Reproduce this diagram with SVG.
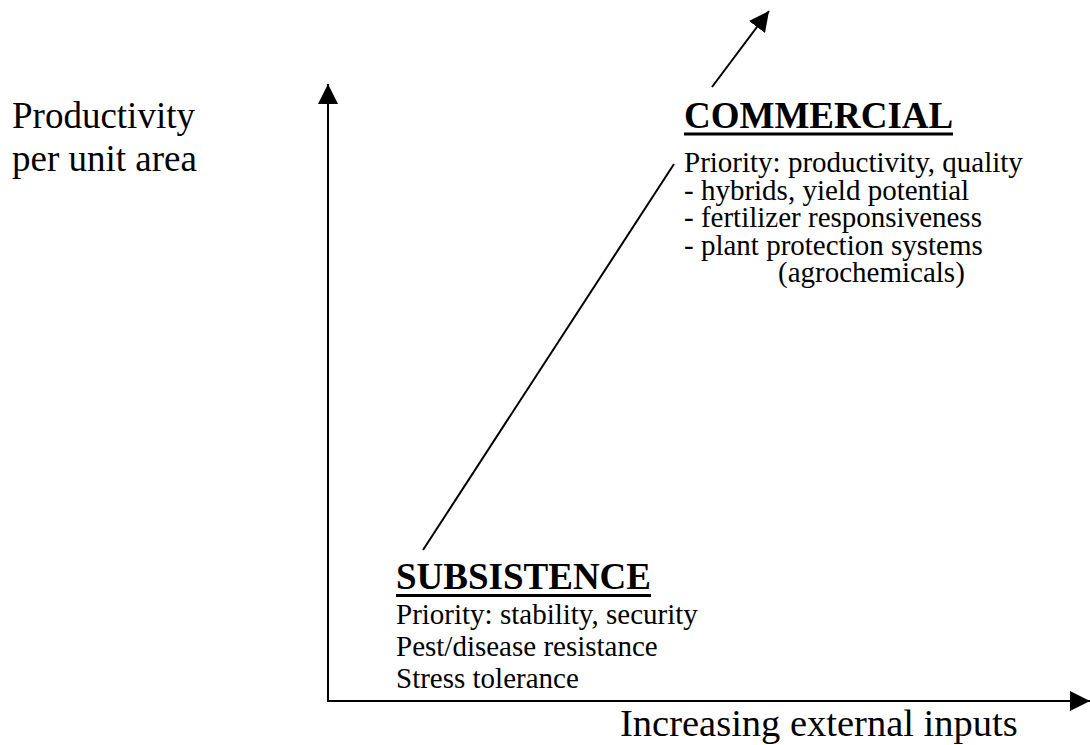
<svg xmlns="http://www.w3.org/2000/svg" width="1090" height="745" viewBox="0 0 1090 745">
<style>
text{font-family:"Liberation Serif","Times New Roman",serif;fill:#000}
.lab{font-size:37px}
.head{font-size:37px;font-weight:bold}
.body{font-size:29px}
.ln{stroke:#000;stroke-width:2;fill:none}
.ul{stroke:#000;stroke-width:3}
</style>
<defs>
<marker id="ah" viewBox="0 0 20 20" refX="20" refY="10" markerWidth="20" markerHeight="20" markerUnits="userSpaceOnUse" orient="auto">
<path d="M0,0 L20,10 L0,20 Z" fill="#000"/>
</marker>
</defs>
<rect width="1090" height="745" fill="#fff"/>
<g id="connectors">
<line class="ln" x1="328" y1="702" x2="328" y2="84" marker-end="url(#ah)"/>
<line class="ln" x1="327" y1="701" x2="1090" y2="701" marker-end="url(#ah)"/>
<line class="ln" x1="423" y1="550" x2="674" y2="164"/>
<line class="ln" x1="712" y1="87" x2="769" y2="11" marker-end="url(#ah)"/>
</g>
<g id="y-label">
<text class="lab" x="12" y="128">Productivity</text>
<text class="lab" x="12" y="171">per unit area</text>
</g>
<g id="x-label">
<text class="lab" x="620" y="736" style="font-size:38.5px">Increasing external inputs</text>
</g>
<g id="commercial">
<text class="head" x="684" y="128">COMMERCIAL</text>
<line class="ul" x1="684" y1="134" x2="953" y2="134"/>
<text class="body" x="684" y="172">Priority: productivity, quality</text>
<text class="body" x="684" y="199.5">- hybrids, yield potential</text>
<text class="body" x="684" y="227">- fertilizer responsiveness</text>
<text class="body" x="684" y="254.5">- plant protection systems</text>
<text class="body" x="778" y="282">(agrochemicals)</text>
</g>
<g id="subsistence">
<text class="head" x="396" y="589">SUBSISTENCE</text>
<line class="ul" x1="396" y1="595.5" x2="651" y2="595.5"/>
<text class="body" x="396" y="624">Priority: stability, security</text>
<text class="body" x="396" y="656">Pest/disease resistance</text>
<text class="body" x="396" y="688">Stress tolerance</text>
</g>
</svg>
